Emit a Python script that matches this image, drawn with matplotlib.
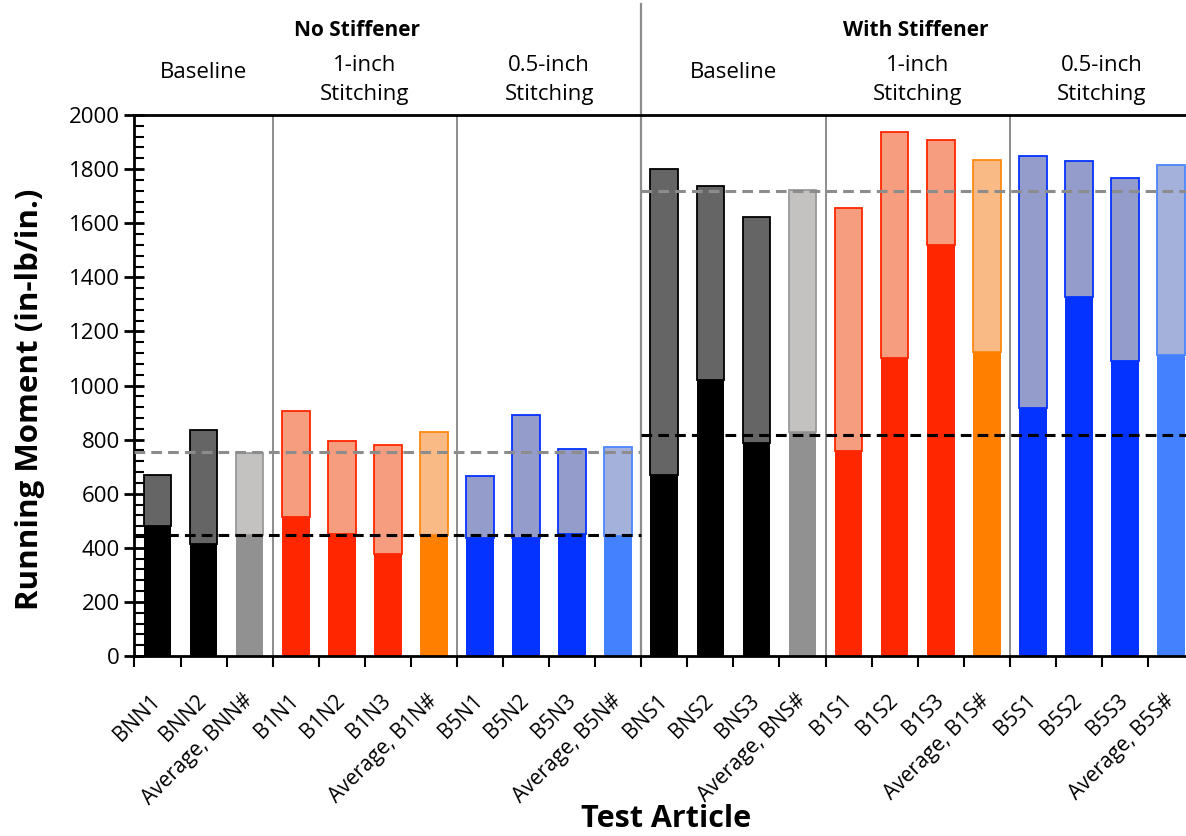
import matplotlib
matplotlib.use("Agg")
import matplotlib.pyplot as plt
import numpy as np

plt.rcParams['font.family'] = ['Open Sans', 'DejaVu Sans']

# test articles, in plotting order
labels = ["BNN1", "BNN2", "Average, BNN#",
          "B1N1", "B1N2", "B1N3", "Average, B1N#",
          "B5N1", "B5N2", "B5N3", "Average, B5N#",
          "BNS1", "BNS2", "BNS3", "Average, BNS#",
          "B1S1", "B1S2", "B1S3", "Average, B1S#",
          "B5S1", "B5S2", "B5S3", "Average, B5S#"]

# running moment at initial failure and at final failure (in-lb/in.)
initial = [480, 415, 447,
           515, 450, 378, 448,
           437, 437, 452, 442,
           669, 1022, 789, 827,
           758, 1100, 1518, 1125,
           917, 1326, 1090, 1111]
final = [669, 835, 752,
         906, 795, 781, 827,
         665, 891, 766, 774,
         1802, 1737, 1623, 1721,
         1656, 1939, 1907, 1834,
         1848, 1831, 1766, 1815]

kind = ["base", "base", "base_avg",
        "one", "one", "one", "one_avg",
        "half", "half", "half", "half_avg",
        "base", "base", "base", "base_avg",
        "one", "one", "one", "one_avg",
        "half", "half", "half", "half_avg"]

# baseline averages used as reference lines
ref_initial = [447, 818]
ref_final = [753, 1718]

group_names = ["Baseline", "1-inch\nStitching", "0.5-inch\nStitching"] * 2
panel_names = ["No Stiffener", "With Stiffener"]

# colours: (lower fill, upper fill, upper edge)
colors = {
    "base": ("#000000", "#666565", "#000000"),
    "base_avg": ("#919191", "#C3C2C0", "#9A9A9A"),
    "one": ("#FF2600", "#F59D7E", "#FF2600"),
    "one_avg": ("#FF7F00", "#FABA86", "#FF8A10"),
    "half": ("#0433FF", "#939CCB", "#0433FF"),
    "half_avg": ("#4381FF", "#A3B1DB", "#4A86FF"),
}

fig = plt.figure(figsize=(11.86, 8.36), dpi=100)
ax = fig.add_axes([0.1134, 0.2153, 0.8934, 0.6471])

x = np.arange(len(labels))
initial = np.array(initial)
final = np.array(final)
for i in x:
    lo, hi, ed = colors[kind[i]]
    ax.bar(i, final[i] - initial[i], bottom=initial[i], width=0.6,
           color=hi, edgecolor=ed, linewidth=1.3, zorder=2)
    ax.bar(i, initial[i], width=0.6, color=lo, linewidth=0, zorder=2)

ax.set_xlim(-0.5, len(labels) - 0.5)
ax.set_ylim(0, 2000)

# group dividers
bounds = [2.5, 6.5, 10.5, 14.5, 18.5]
for b in bounds:
    ax.axvline(b, color="#8C8C8C", lw=1.4, zorder=1)
ax.plot([10.5, 10.5], [0, 1.205], color="#8C8C8C", lw=1.6,
        transform=ax.get_xaxis_transform(), clip_on=False, zorder=1)

# reference lines for each half
spans = [(-0.5, 10.5), (10.5, len(labels) - 0.5)]
for (a, b), yi, yf in zip(spans, ref_initial, ref_final):
    ax.plot([a, b], [yf, yf], color="#8C8C8C", lw=2.2, ls=(0, (3.5, 2)), zorder=3)
    ax.plot([a, b], [yi, yi], color="black", lw=2.2, ls=(0, (3.5, 2)), zorder=3)

# header labels
group_edges = [-0.5] + bounds + [len(labels) - 0.5]
tr = ax.get_xaxis_transform()
for k, name in enumerate(group_names):
    cx = (group_edges[k] + group_edges[k + 1]) / 2
    yy = 1.0795 if "\n" not in name else 1.0647
    ax.text(cx, yy, name, transform=tr, ha="center", va="center",
            fontsize=16, linespacing=1.55)
ax.text(4.33, 1.157, panel_names[0], transform=tr, ha="center", va="center",
        fontsize=15, fontweight="bold")
ax.text(16.45, 1.157, panel_names[1], transform=tr, ha="center", va="center",
        fontsize=15, fontweight="bold")

# axes styling
for s in ["left", "bottom", "top"]:
    ax.spines[s].set_linewidth(2)
ax.spines["right"].set_visible(False)
ax.set_yticks(np.arange(0, 2001, 200))
ax.set_yticks(np.arange(0, 2001, 40), minor=True)
ax.tick_params(axis="y", which="major", direction="inout", length=14, width=2,
               labelsize=16)
ax.tick_params(axis="y", which="minor", direction="in", length=7, width=1.5)
ax.set_xticks(np.arange(-0.5, len(labels), 1.0))
ax.set_xticks(x, minor=True)
ax.set_xticklabels([])
ax.set_xticklabels(labels, minor=True, rotation=45, ha="right", va="center",
                   rotation_mode="anchor", fontsize=15)
ax.tick_params(axis="x", which="major", direction="out", length=8, width=1.5)
ax.tick_params(axis="x", which="minor", length=0, pad=30)

ax.set_ylabel("Running Moment (in-lb/in.)", fontsize=22.5, fontweight="bold",
              va="center")
ax.yaxis.set_label_coords(-0.0985, 0.474)
ax.set_xlabel("Test Article", fontsize=22, fontweight="bold", va="baseline")
ax.xaxis.set_label_coords(0.502, -0.316)

fig.savefig("out.png", dpi=100)
